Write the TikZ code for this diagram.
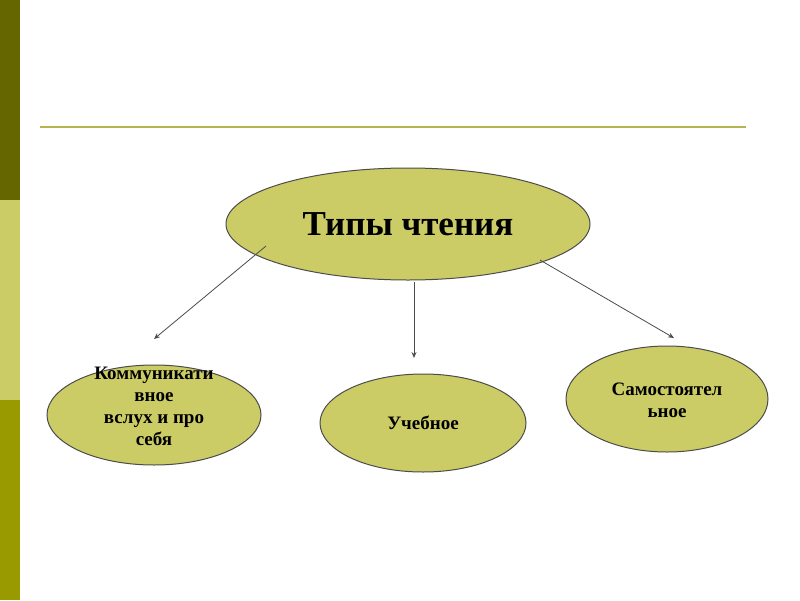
\documentclass[tikz,border=0pt]{standalone}
\usepackage{fontspec}
\setmainfont{Liberation Serif}
\usetikzlibrary{shapes.geometric,arrows.meta}
\definecolor{darkol}{HTML}{666600}
\definecolor{lightol}{HTML}{CCCC66}
\definecolor{midol}{HTML}{999900}
\definecolor{lineol}{HTML}{B5B54F}
\tikzset{
  oval/.style={ellipse, draw=black!70, line width=1pt, fill=lightol, inner sep=0pt},
  txt/.style={align=center, inner sep=0pt, font=\bfseries\fontsize{19}{22}\selectfont},
  conn/.style={draw=black!70, line width=0.8pt, -{Stealth[length=6pt,width=5pt]}}
}
\begin{document}
\begin{tikzpicture}[x=1pt,y=-1pt]
\useasboundingbox (0,0) rectangle (800,600);
\fill[white] (0,0) rectangle (800,600);
\fill[darkol] (0,0) rectangle (20,200);
\fill[lightol] (0,200) rectangle (20,400);
\fill[midol] (0,400) rectangle (20,600);
\draw[lineol, line width=1.5pt] (40,127) -- (746,127);
\node[oval, minimum width=364pt, minimum height=112pt] (main) at (408,224) {};
\node[txt, font=\bfseries\fontsize{35}{40}\selectfont] (maint) at (main.center) {Типы чтения};
\node[oval, minimum width=214pt, minimum height=100pt] (left) at (154,415) {};
\node[txt] (leftt) at (154,406) {Коммуникати\\вное\\вслух и про\\себя};
\node[oval, minimum width=206pt, minimum height=98pt] (mid) at (423,423) {};
\node[txt] (midt) at (mid.center) {Учебное};
\node[oval, minimum width=202pt, minimum height=106pt] (right) at (667,399) {};
\node[txt] (rightt) at (667,400) {Самостоятел\\ьное};
\coordinate (s1) at (266,246);
\coordinate (e1) at (154,339);
\coordinate (s2) at (414,282);
\coordinate (e2) at (414,358);
\coordinate (s3) at (540,260);
\coordinate (e3) at (674,338);
\draw[conn] (s1) -- (e1);
\draw[conn] (s2) -- (e2);
\draw[conn] (s3) -- (e3);
\end{tikzpicture}
\end{document}
